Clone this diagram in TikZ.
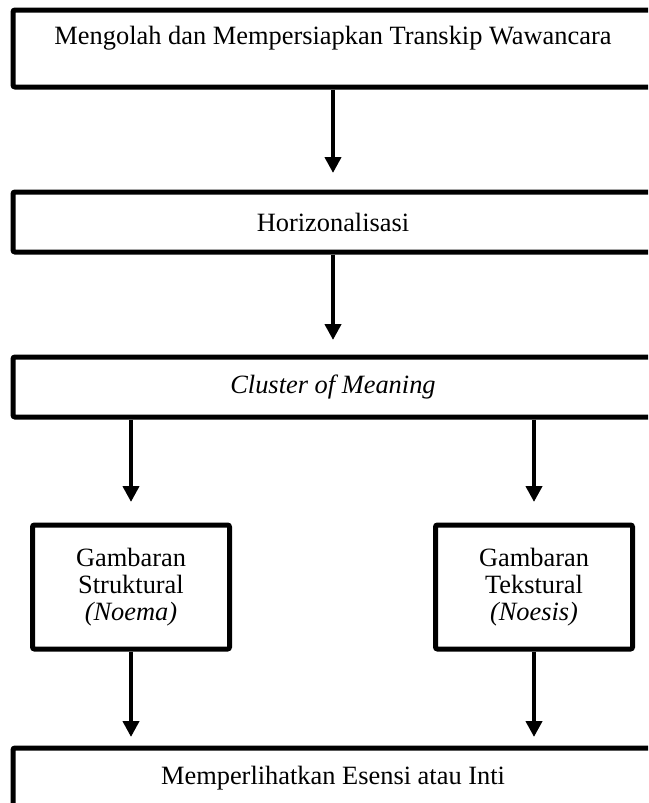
\documentclass[tikz,border=0pt]{standalone}
\usepackage{fontspec}
\setmainfont{Liberation Serif}
\usetikzlibrary{arrows.meta}
\tikzset{
  kotak/.style={draw,line width=2.5pt,rounded corners=1pt,minimum width=320pt,inner sep=0pt},
  kotakkecil/.style={draw,line width=2.5pt,rounded corners=1pt,minimum width=98.5pt,
    minimum height=62pt,align=center,inner sep=0pt},
  panah/.style={-{Triangle[length=8pt,width=8pt]},line width=2.3pt}
}
\begin{document}
\begin{tikzpicture}[x=.5pt,y=-.5pt,font=\fontsize{13.2}{13.5}\selectfont]
\useasboundingbox (0,0) rectangle (648,803);
\clip (0,0) rectangle (648,803);
%
% kotak-kotak
\node[kotak,minimum height=38.5pt] (olah) at (333,48.5) {};
\node (judul) at (333,38) {Mengolah dan Mempersiapkan Transkip Wawancara};
\node[kotak,minimum height=30pt] (horizon) at (333,222) {Horizonalisasi};
\node[kotak,minimum height=30pt] (cluster) at (333,387) {\textit{Cluster of Meaning}};
\node[kotakkecil] (struktural) at (131,587) {Gambaran\\Struktural\\\textit{(Noema)}};
\node[kotakkecil] (tekstural) at (534,587) {Gambaran\\Tekstural\\\textit{(Noesis)}};
\node[kotak,minimum height=30pt] (esensi) at (333,778) {Memperlihatkan Esensi atau Inti};
%
% panah
\foreach \dari/\ke/\jarak in {olah/horizon/8.25pt,horizon/cluster/7.25pt}
\draw[panah,shorten >=\jarak] (\dari.south) -- (\ke.north);
\foreach \ke in {struktural,tekstural}
{\draw[panah,shorten >=10.25pt] (cluster.south -| \ke.north) -- (\ke.north);
\draw[panah,shorten >=4.25pt] (\ke.south) -- (esensi.north -| \ke.south);}
\end{tikzpicture}
\end{document}
